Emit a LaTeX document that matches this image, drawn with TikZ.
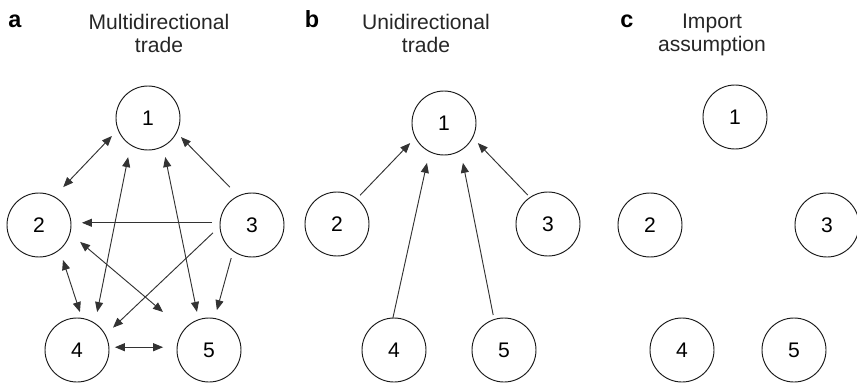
\documentclass[tikz,border=0pt]{standalone}
\usepackage{fontspec}
\setmainfont{Liberation Sans}
\usetikzlibrary{arrows.meta}

\begin{document}
\begin{tikzpicture}[
    x=0.03cm, y=-0.03cm,
    country/.style={circle, draw=black!90, line width=0.8pt, minimum size=1.92cm, inner sep=0pt, outer sep=0pt, font=\fontsize{18}{19}\selectfont},
    heading/.style={align=center, anchor=base, inner sep=0pt, font=\fontsize{18}{19}\selectfont, text=black!85},
    panel/.style={anchor=base, inner sep=0pt, font=\fontsize{20}{20}\selectfont\bfseries},
    arrow/.style={line width=0.8pt, draw=black!80, -{Triangle[length=3mm, width=2.4mm]}},
    twoway/.style={arrow, {Triangle[length=3mm, width=2.4mm]}-{Triangle[length=3mm, width=2.4mm]}}
]
\useasboundingbox (0,0) rectangle (857,384);

% panel a: multidirectional trade
\node (pa) [panel] at (15,27) {a};
\node (ha) [heading] at (159,52) {Multidirectional\\ trade};
\node (a1) [country] at (148,118) {1};
\node (a2) [country] at (39,225) {2};
\node (a3) [country] at (252,225) {3};
\node (a4) [country] at (77,350) {4};
\node (a5) [country] at (209,350) {5};

\draw [twoway, shorten <=2.7mm, shorten >=4mm] (a1.201) -- (a2.62);
\draw [arrow, shorten <=3.7mm, shorten >=1.9mm] (a3.115) -- (a1.333);
\draw [twoway, shorten <=3.75mm, shorten >=3.5mm] (a1.237) -- (a4.56);
\draw [twoway, shorten <=3.3mm, shorten >=2.4mm] (a1.298) -- (a5.109);
\draw [arrow, shorten <=2.4mm, shorten >=3.3mm] (a3.176) -- (a2.4);
\draw [twoway, shorten <=4mm, shorten >=8.3mm] (a2.345) -- (a5.141);
\draw [arrow, shorten <=2.9mm, shorten >=3.2mm] (a3.182) -- (a4.28);
\draw [arrow, shorten <=2.25mm, shorten >=2.6mm] (a3.234) -- (a5.80);
\draw [twoway, shorten <=3.3mm, shorten >=2mm] (a2.310) -- (a4.81);
\draw [twoway, shorten <=1.8mm, shorten >=4.2mm] (a4.5) -- (a5.175);

% panel b: unidirectional trade
\node (pb) [panel] at (312,27) {b};
\node (hb) [heading] at (426,52) {Unidirectional\\ trade};
\node (b1) [country] at (444,123) {1};
\node (b2) [country] at (337,224) {2};
\node (b3) [country] at (548,224) {3};
\node (b4) [country] at (394,350) {4};
\node (b5) [country] at (504,350) {5};

\draw [arrow, shorten <=1.5mm, shorten >=2.3mm] (b2.52) -- (b1.207);
\draw [arrow, shorten <=1mm, shorten >=2.3mm] (b3.124) -- (b1.333);
\draw [arrow, shorten >=3.5mm] (b4.92) -- (b1.243);
\draw [arrow, shorten <=1.4mm, shorten >=3.8mm] (b5.108) -- (b1.301);

% panel c: import assumption
\node (pc) [panel] at (627,27) {c};
\node (hc) [heading] at (712,51) {Import\\ assumption};
\node (c1) [country] at (735,117) {1};
\node (c2) [country] at (650,225) {2};
\node (c3) [country] at (827,225) {3};
\node (c4) [country] at (682,350) {4};
\node (c5) [country] at (794,350) {5};

\end{tikzpicture}
\end{document}
